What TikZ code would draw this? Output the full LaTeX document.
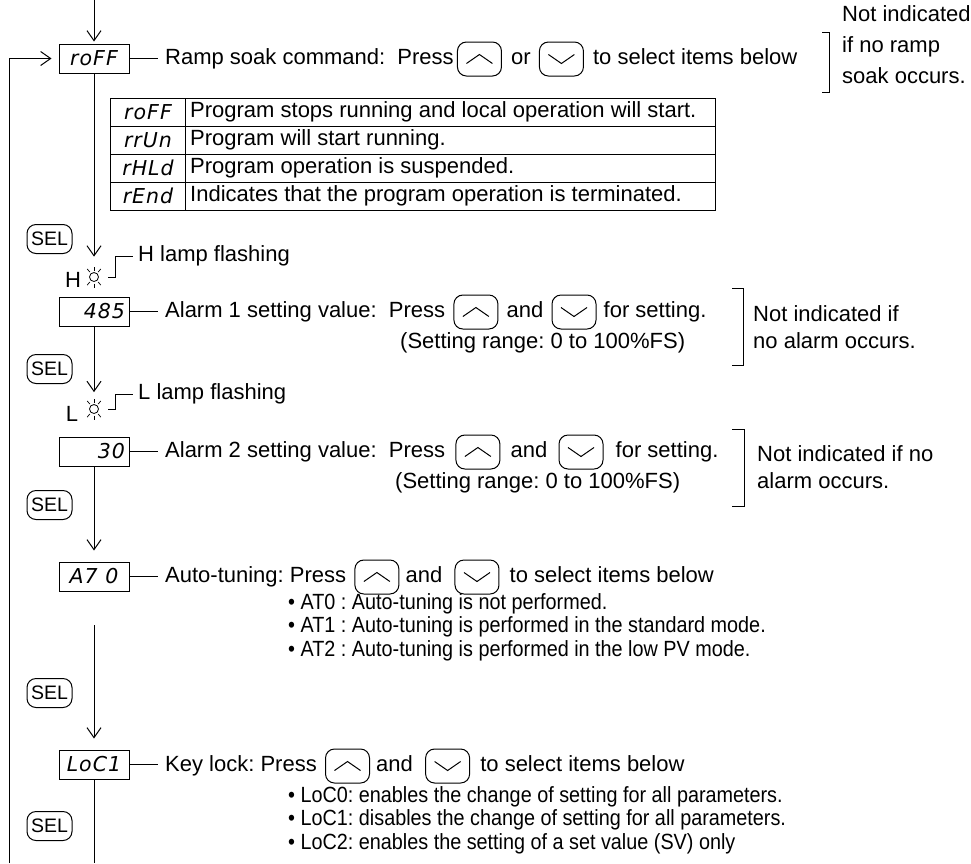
\documentclass[tikz,border=0pt]{standalone}
\usepackage{fontspec}
\setmainfont{Liberation Sans}
\newfontfamily\segfont{DejaVu Sans}[LetterSpace=5]
\newfontfamily\narrowfont{Liberation Sans}[FakeStretch=0.9]
\usetikzlibrary{arrows.meta}
\frenchspacing
\begin{document}
\begin{tikzpicture}[x=1pt,y=-1pt,
  every node/.style={inner sep=0pt, font=\fontsize{22}{25}\selectfont},
  seg/.style={draw, line width=1pt, minimum width=70pt, minimum height=29pt, font=\segfont\itshape\fontsize{20.5}{20.5}\selectfont},
  segtxt/.style={font=\segfont\itshape\fontsize{20.5}{20.5}\selectfont},
  btn/.style={draw, line width=1pt, rounded corners=9pt, minimum width=44pt, minimum height=34pt, anchor=west},
  upbtn/.style={btn, path picture={\draw[line width=1pt, sharp corners] ([xshift=-13pt,yshift=-4.5pt]path picture bounding box.center) -- ++(13pt,9pt) -- ++(13pt,-9pt);}},
  dnbtn/.style={btn, path picture={\draw[line width=1pt, sharp corners] ([xshift=-13pt,yshift=4.5pt]path picture bounding box.center) -- ++(13pt,-9pt) -- ++(13pt,9pt);}},
  selbtn/.style={draw, line width=1pt, rounded corners=9pt, minimum width=45pt, minimum height=29pt, font=\fontsize{19.5}{19.5}\selectfont},
  flow/.style={line width=1pt},
  arr/.style={flow, -{Straight Barb[length=10pt, width=14pt]}},
  lbl/.style={anchor=west, text height=16pt, text depth=4.5pt},
  note/.style={anchor=north west, align=left},
  blt/.style={anchor=north west, align=left, font=\narrowfont\fontsize{22}{23.5}\selectfont},
  lamp/.style={draw, circle, line width=0.8pt, minimum size=9pt},
]
\useasboundingbox (0,0) rectangle (971,863);

% ---------- roFF ----------
\node[seg] (roff) at (94,58.5) {roFF};
\coordinate (topin) at (94,0);
\coordinate (retbot) at (9,863);
\draw[arr, shorten >=2pt] (topin) -- (roff.north);
\draw[arr, shorten >=7pt] (retbot) |- (roff.west);

\node[lbl] (ta) at (165,59) {Ramp soak command:\ \ Press};
\draw[flow, shorten >=7pt] (roff.east) -- (roff.east -| ta.west);
\node[upbtn] (ua) at ([xshift=3pt]ta.east) {};
\node[lbl] (ora) at ([xshift=9pt]ua.east) {or};
\node[dnbtn] (da) at ([xshift=8pt]ora.east) {};
\node[lbl] (sela) at ([xshift=9pt]da.east) {to select items below};
\draw[flow] (822,32) -- (829,32) -- (829,92) -- (822,92);
\node[note, font=\fontsize{22}{31}\selectfont] (na) at (842,5) {Not indicated\\if no ramp\\soak occurs.};

% ---------- table ----------
\draw[flow] (110,98) rectangle (715,210);
\draw[flow] (185,98) -- (185,210);
\foreach \yy in {126,154,182} \draw[flow] (110,\yy) -- (715,\yy);
\node[segtxt] (c1) at (148,112) {roFF};
\node[segtxt] (c2) at (148,140) {rrUn};
\node[segtxt] (c3) at (148,168) {rHLd};
\node[segtxt] (c4) at (148,196) {rEnd};
\node[lbl] (d1) at (190,112) {Program stops running and local operation will start.};
\node[lbl] (d2) at (190,140) {Program will start running.};
\node[lbl] (d3) at (190,168) {Program operation is suspended.};
\node[lbl] (d4) at (190,196) {Indicates that the program operation is terminated.};

% ---------- H lamp ----------
\node[selbtn] (sel1) at (49.5,239) {SEL};
\node[lamp] (lh) at (94,277) {};
\foreach \a in {50,90,130,230,270,310} \draw[line width=0.7pt] (lh.center) ++(\a:6.5pt) -- ++(\a:4pt);
\node (hH) at (73,280) {H};
\draw[arr, shorten >=15.5pt] (roff.south) -- (lh.north);
\node[lbl] (th) at (138,256) {H lamp flashing};
\draw[flow] ([xshift=9.5pt]lh.east) -- ++(7pt,0) |- ([xshift=-5pt]th.west);

% ---------- Alarm 1 ----------
\node[seg, text width=62pt, align=right] (a1) at (94,311.5) {485};
\node[lbl] (tb) at (165,312) {Alarm 1 setting value:\ \ Press};
\draw[flow, shorten >=7pt] (a1.east) -- (a1.east -| tb.west);
\node[upbtn] (ub) at ([xshift=8pt]tb.east) {};
\node[lbl] (andb) at ([xshift=8pt]ub.east) {and};
\node[dnbtn] (db) at ([xshift=8pt]andb.east) {};
\node[lbl] (fb) at ([xshift=7pt]db.east) {for setting.};
\node[lbl] (rb) at (400,343) {(Setting range: 0 to 100\%FS)};
\draw[flow] (732,288) -- (743,288) -- (743,365) -- (732,365);
\node[note, font=\fontsize{22}{27}\selectfont] (nb) at (753,305) {Not indicated if\\no alarm occurs.};

% ---------- L lamp ----------
\node[selbtn] (sel2) at (49.5,369) {SEL};
\node[lamp] (ll) at (94,409) {};
\foreach \a in {50,90,130,230,270,310} \draw[line width=0.7pt] (ll.center) ++(\a:6.5pt) -- ++(\a:4pt);
\node (lL) at (72,414) {L};
\draw[arr, shorten >=12pt] (a1.south) -- (ll.north);
\node[lbl] (tl) at (138,394) {L lamp flashing};
\draw[flow] ([xshift=9.5pt]ll.east) -- ++(7pt,0) |- ([xshift=-5pt]tl.west);

% ---------- Alarm 2 ----------
\node[seg, text width=62pt, align=right] (a2) at (94,451.5) {30};
\node[lbl] (tc) at (165,452) {Alarm 2 setting value:\ \ Press};
\draw[flow, shorten >=7pt] (a2.east) -- (a2.east -| tc.west);
\node[upbtn] (uc) at ([xshift=10pt]tc.east) {};
\node[lbl] (andc) at ([xshift=10pt]uc.east) {and};
\node[dnbtn] (dc) at ([xshift=11pt]andc.east) {};
\node[lbl] (fc) at ([xshift=12pt]dc.east) {for setting.};
\node[lbl] (rc) at (395,483) {(Setting range: 0 to 100\%FS)};
\draw[flow] (732,429) -- (744,429) -- (744,506) -- (732,506);
\node[note, font=\fontsize{22}{27}\selectfont] (nc) at (757,445) {Not indicated if no\\alarm occurs.};

% ---------- Auto-tuning ----------
\node[selbtn] (sel3) at (49.5,505) {SEL};
\node[seg] (at) at (94,576.5) {A7 0};
\draw[arr, shorten >=11pt] (a2.south) -- (at.north);
\node[lbl] (td) at (165,577) {Auto-tuning: Press};
\draw[flow, shorten >=7pt] (at.east) -- (at.east -| td.west);
\node[upbtn] (ud) at ([xshift=8pt]td.east) {};
\node[lbl] (andd) at ([xshift=6pt]ud.east) {and};
\node[dnbtn] (dd) at ([xshift=12pt]andd.east) {};
\node[lbl] (sd) at ([xshift=10pt]dd.east) {to select items below};
\node[blt] (bd) at (288,593) {\textbullet\ AT0 : Auto-tuning is not performed.\\\textbullet\ AT1 : Auto-tuning is performed in the standard mode.\\\textbullet\ AT2 : Auto-tuning is performed in the low PV mode.};

% ---------- Key lock ----------
\node[selbtn] (sel4) at (49.5,693) {SEL};
\coordinate (gapst) at (94,625);
\node[seg] (loc) at (94,764.5) {LoC1};
\draw[arr, shorten >=11pt] (gapst) -- (loc.north);
\node[lbl] (te) at (165,766) {Key lock: Press};
\draw[flow, shorten >=7pt] (loc.east) -- (loc.east -| te.west);
\node[upbtn] (ue) at ([xshift=8pt]te.east) {};
\node[lbl] (ande) at ([xshift=6pt]ue.east) {and};
\node[dnbtn] (de) at ([xshift=12pt]ande.east) {};
\node[lbl] (se) at ([xshift=10pt]de.east) {to select items below};
\node[blt] (be) at (288,786) {\textbullet\ LoC0: enables the change of setting for all parameters.\\\textbullet\ LoC1: disables the change of setting for all parameters.\\\textbullet\ LoC2: enables the setting of a set value (SV) only};
\node[selbtn] (sel5) at (49.5,826) {SEL};
\coordinate (botend) at (94,863);
\draw[flow] (loc.south) -- (botend);
\end{tikzpicture}
\end{document}
